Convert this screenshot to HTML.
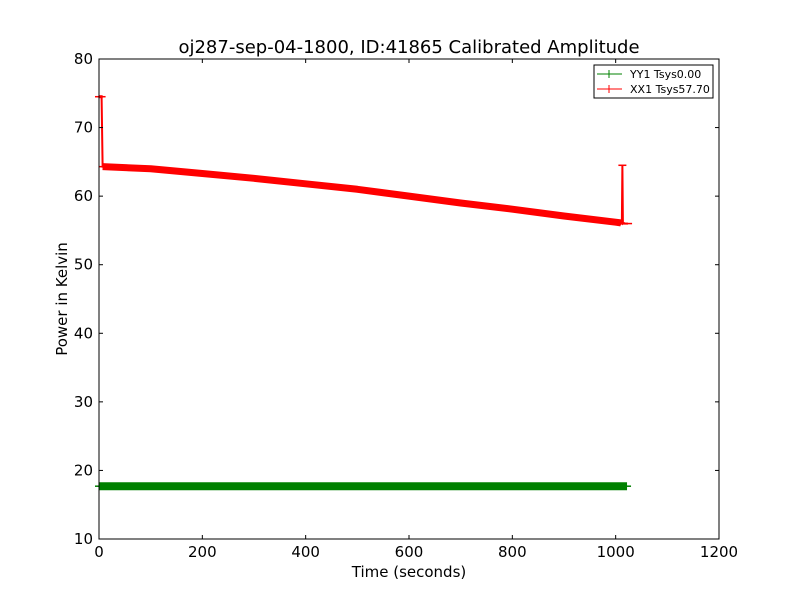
<!DOCTYPE html>
<html><head><meta charset="utf-8"><style>
body{margin:0;background:#fff;}
svg text{font-family:"DejaVu Sans","Liberation Sans",sans-serif;}
</style></head><body>
<svg id="chart" width="800" height="600" xmlns="http://www.w3.org/2000/svg">
<rect width="800" height="600" fill="#fff"/>
<text x="409" y="53" font-size="18" text-anchor="middle">oj287-sep-04-1800, ID:41865 Calibrated Amplitude</text>
<g id="marks"></g>
<rect x="99" y="59" width="620" height="480" fill="none" stroke="#000" stroke-width="1"/>
<g id="axes"></g>
<text x="409" y="577" font-size="15" text-anchor="middle">Time (seconds)</text>
<text transform="translate(67,299) rotate(-90)" font-size="15" text-anchor="middle">Power in Kelvin</text>
<g>
<rect x="594" y="65" width="119" height="33" fill="#fff" stroke="#000" stroke-width="1"/>
<line x1="597" y1="74" x2="622" y2="74" stroke="green"/><line x1="609" y1="70" x2="609" y2="78" stroke="green"/>
<line x1="597" y1="89" x2="622" y2="89" stroke="red"/><line x1="609" y1="85" x2="609" y2="93" stroke="red"/>
<text x="630" y="78" font-size="11">YY1 Tsys0.00</text>
<text x="630" y="93" font-size="11">XX1 Tsys57.70</text>
</g>
</svg>
<script>
const xTicks=[0,200,400,600,800,1000,1200];
const yTicks=[10,20,30,40,50,60,70,80];
const redT=[0,5,7,100,200,300,400,500,600,700,800,900,1000,1010,1012,1013,1014,1024];
const redV=[74.5,74.5,64.3,64.0,63.3,62.6,61.8,61.0,60.0,59.0,58.1,57.1,56.2,56.1,56.0,64.5,56.0,56.0];
const greenT=[0,200,400,600,800,1022];
const greenV=[17.7,17.7,17.7,17.7,17.7,17.7];
const X0=99,W=620,Y0=59,H=480;
const sx=t=>X0+t/1200*W;
const sy=v=>Y0+(80-v)/70*H;
const NS="http://www.w3.org/2000/svg";
const marks=document.getElementById('marks'),axes=document.getElementById('axes');
function mk(tag,attrs,parent){const e=document.createElementNS(NS,tag);for(const k in attrs)e.setAttribute(k,attrs[k]);parent.appendChild(e);return e;}
xTicks.forEach(t=>{
 mk('line',{x1:sx(t),x2:sx(t),y1:539,y2:535,stroke:'#000'},axes);
 mk('line',{x1:sx(t),x2:sx(t),y1:59,y2:63,stroke:'#000'},axes);
 const tx=mk('text',{x:sx(t),y:557,'font-size':15,'text-anchor':'middle'},axes);tx.textContent=t;
 
 
});
yTicks.forEach(v=>{
 mk('line',{x1:99,x2:103,y1:sy(v),y2:sy(v),stroke:'#000'},axes);
 mk('line',{x1:719,x2:715,y1:sy(v),y2:sy(v),stroke:'#000'},axes);
 const tx=mk('text',{x:93,y:sy(v)+5,'font-size':15,'text-anchor':'end'},axes);tx.textContent=v;
 
 
});
function series(T,V,color,name,bandW,bandFrom,bandTo){
 const pts=T.map((t,i)=>sx(t)+','+sy(V[i])).join(' ');
 const p=mk('polyline',{points:pts,fill:'none',stroke:color,'stroke-width':2},marks);
 
 
 const bp=T.slice(bandFrom,bandTo+1).map((t,j)=>sx(t)+','+sy(V[bandFrom+j])).join(' ');
 const b=mk('polyline',{points:bp,fill:'none',stroke:color,'stroke-width':bandW,'stroke-linejoin':'round'},marks);
 
 
 T.forEach((t,i)=>{mk('line',{x1:sx(t)-4,x2:sx(t)+4,y1:sy(V[i]),y2:sy(V[i]),stroke:color,'stroke-width':1.5},marks);});
}
series(greenT,greenV,'green','series-yy1',8,0,greenT.length-1);
mk('line',{x1:sx(0),x2:sx(7),y1:sy(74.5),y2:sy(74.5),stroke:'red','stroke-width':3},marks);
series(redT,redV,'red','series-xx1',7,2,14);
</script>
</body></html>
